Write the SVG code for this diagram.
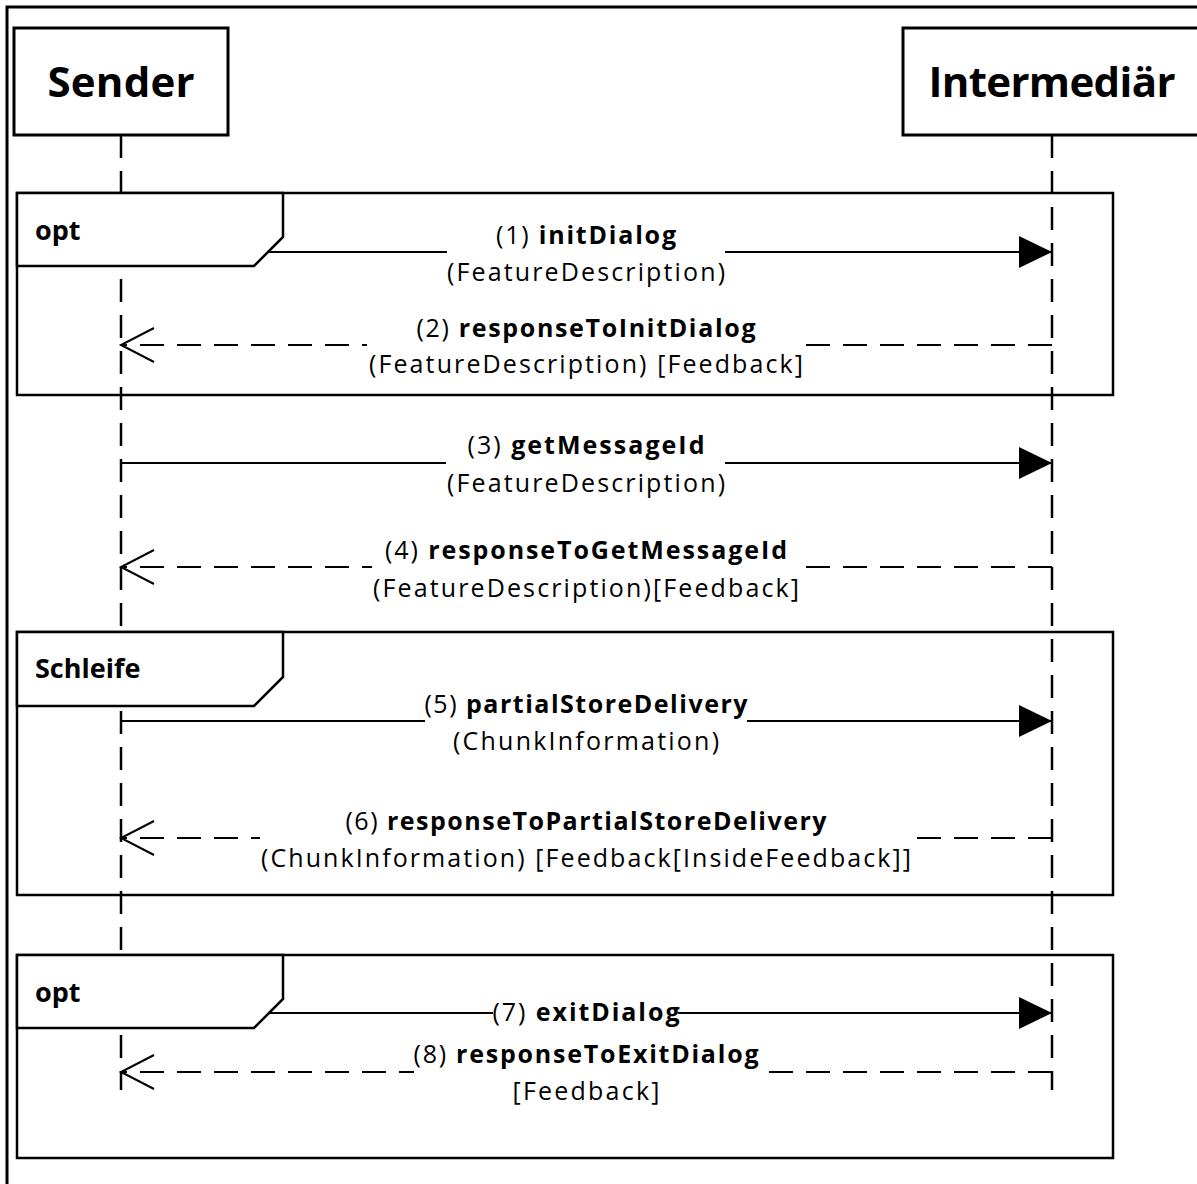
<svg xmlns="http://www.w3.org/2000/svg" width="1197" height="1184" viewBox="0 0 1197 1184">
  <defs>
    <style>
      .border{fill:none;stroke:#000;stroke-width:3}
      .box{fill:#fff;stroke:#000;stroke-width:3}
      .life{fill:none;stroke:#000;stroke-width:2.5;stroke-dasharray:23 13}
      .msg{fill:none;stroke:#000;stroke-width:2}
      .reply{fill:none;stroke:#000;stroke-width:2;stroke-dasharray:24 13}
      .frame{fill:none;stroke:#000;stroke-width:2.5}
      .tab{fill:#fff;stroke:#000;stroke-width:2.5;stroke-linejoin:miter}
      .bg{fill:#fff;stroke:none}
      .head{font-family:"Open Sans","Liberation Sans",sans-serif;font-weight:700;font-size:42px;text-anchor:middle;fill:#000}
      .flabel{font-family:"Open Sans","Liberation Sans",sans-serif;font-weight:700;font-size:27px;fill:#000}
      .lbl{font-family:"Open Sans","Liberation Sans",sans-serif;font-size:25px;text-anchor:middle;fill:#000}
      .b{font-weight:700}
    </style>
    <!-- synchronous call: filled triangle -->
    <marker id="callHead" markerUnits="userSpaceOnUse" orient="auto" overflow="visible" refX="0" refY="0" markerWidth="34" markerHeight="34">
      <path d="M-33,-16 L0,0 L-33,16 Z" fill="#000" stroke="none"/>
    </marker>
    <!-- reply: open chevron -->
    <marker id="replyHead" markerUnits="userSpaceOnUse" orient="auto" overflow="visible" refX="0" refY="0" markerWidth="36" markerHeight="36">
      <path d="M-33,-17 L0,0 L-33,17" fill="none" stroke="#000" stroke-width="2" stroke-dasharray="none"/>
    </marker>
  </defs>

  <rect width="1197" height="1184" fill="#fff"/>
  <!-- outer diagram border (open to the right and bottom) -->
  <rect class="border" x="7" y="7" width="1220" height="1220"/>

  <!-- participants -->
  <g id="sender">
    <path class="life" d="M121,135 V1090"/>
    <rect class="box" x="14" y="28" width="214" height="107"/>
    <text class="head" x="121" y="97" textLength="147" lengthAdjust="spacing">Sender</text>
  </g>
  <g id="intermediaer">
    <path class="life" d="M1052,135 V1090"/>
    <rect class="box" x="903" y="28" width="320" height="107"/>
    <text class="head" x="1052" y="97" textLength="247" lengthAdjust="spacing">Intermediär</text>
  </g>

  <!-- messages -->
  <g id="connectors">
    <g id="msg1">
      <path class="msg" d="M121,252 H1052" marker-end="url(#callHead)"/>
      <rect class="bg" x="447" y="246" width="278" height="12"/>
      <text class="lbl" x="586" y="244" textLength="180" lengthAdjust="spacing">(1) <tspan class="b">initDialog</tspan></text>
      <text class="lbl" x="586" y="281" textLength="278" lengthAdjust="spacing">(FeatureDescription)</text>
    </g>
    <g id="msg2">
      <path class="reply" d="M1052,345 H121" marker-end="url(#replyHead)"/>
      <rect class="bg" x="367" y="339" width="436" height="12"/>
      <text class="lbl" x="586" y="337" textLength="339" lengthAdjust="spacing">(2) <tspan class="b">responseToInitDialog</tspan></text>
      <text class="lbl" x="586" y="373" textLength="434" lengthAdjust="spacing">(FeatureDescription) [Feedback]</text>
    </g>
    <g id="msg3">
      <path class="msg" d="M121,463 H1052" marker-end="url(#callHead)"/>
      <rect class="bg" x="446" y="457" width="279" height="12"/>
      <text class="lbl" x="586" y="454" textLength="237" lengthAdjust="spacing">(3) <tspan class="b">getMessageId</tspan></text>
      <text class="lbl" x="586" y="492" textLength="278" lengthAdjust="spacing">(FeatureDescription)</text>
    </g>
    <g id="msg4">
      <path class="reply" d="M1052,567 H121" marker-end="url(#replyHead)"/>
      <rect class="bg" x="372" y="561" width="427" height="12"/>
      <text class="lbl" x="586" y="559" textLength="402" lengthAdjust="spacing">(4) <tspan class="b">responseToGetMessageId</tspan></text>
      <text class="lbl" x="586" y="597" textLength="426" lengthAdjust="spacing">(FeatureDescription)[Feedback]</text>
    </g>
    <g id="msg5">
      <path class="msg" d="M121,721 H1052" marker-end="url(#callHead)"/>
      <rect class="bg" x="425" y="715" width="322" height="12"/>
      <text class="lbl" x="586" y="713" textLength="323" lengthAdjust="spacing">(5) <tspan class="b">partialStoreDelivery</tspan></text>
      <text class="lbl" x="586" y="750" textLength="266" lengthAdjust="spacing">(ChunkInformation)</text>
    </g>
    <g id="msg6">
      <path class="reply" d="M1052,838 H121" marker-end="url(#replyHead)"/>
      <rect class="bg" x="260" y="832" width="650" height="12"/>
      <text class="lbl" x="586" y="830" textLength="481" lengthAdjust="spacing">(6) <tspan class="b">responseToPartialStoreDelivery</tspan></text>
      <text class="lbl" x="586" y="867" textLength="650" lengthAdjust="spacing">(ChunkInformation) [Feedback[InsideFeedback]]</text>
    </g>
    <g id="msg7">
      <path class="msg" d="M121,1013 H1052" marker-end="url(#callHead)"/>
      <rect class="bg" x="493" y="1007" width="185" height="12"/>
      <text class="lbl" x="586" y="1021" textLength="187" lengthAdjust="spacing">(7) <tspan class="b">exitDialog</tspan></text>
    </g>
    <g id="msg8">
      <path class="reply" d="M1052,1072 H121" marker-end="url(#replyHead)"/>
      <rect class="bg" x="414" y="1066" width="346" height="12"/>
      <text class="lbl" x="586" y="1063" textLength="345" lengthAdjust="spacing">(8) <tspan class="b">responseToExitDialog</tspan></text>
      <text class="lbl" x="586" y="1100" textLength="147" lengthAdjust="spacing">[Feedback]</text>
    </g>
  </g>

  <!-- combined fragments -->
  <g id="frame-opt-init">
    <rect class="frame" x="17" y="193" width="1096" height="202"/>
    <path class="tab" d="M17,193 H283 V237 L254,266 H17 Z"/>
    <text class="flabel" x="35" y="240">opt</text>
  </g>
  <g id="frame-loop">
    <rect class="frame" x="17" y="632" width="1096" height="263"/>
    <path class="tab" d="M17,632 H283 V677 L254,706 H17 Z"/>
    <text class="flabel" x="35" y="678">Schleife</text>
  </g>
  <g id="frame-opt-exit">
    <rect class="frame" x="17" y="955" width="1096" height="203"/>
    <path class="tab" d="M17,955 H283 V999 L254,1028 H17 Z"/>
    <text class="flabel" x="35" y="1002">opt</text>
  </g>
</svg>
